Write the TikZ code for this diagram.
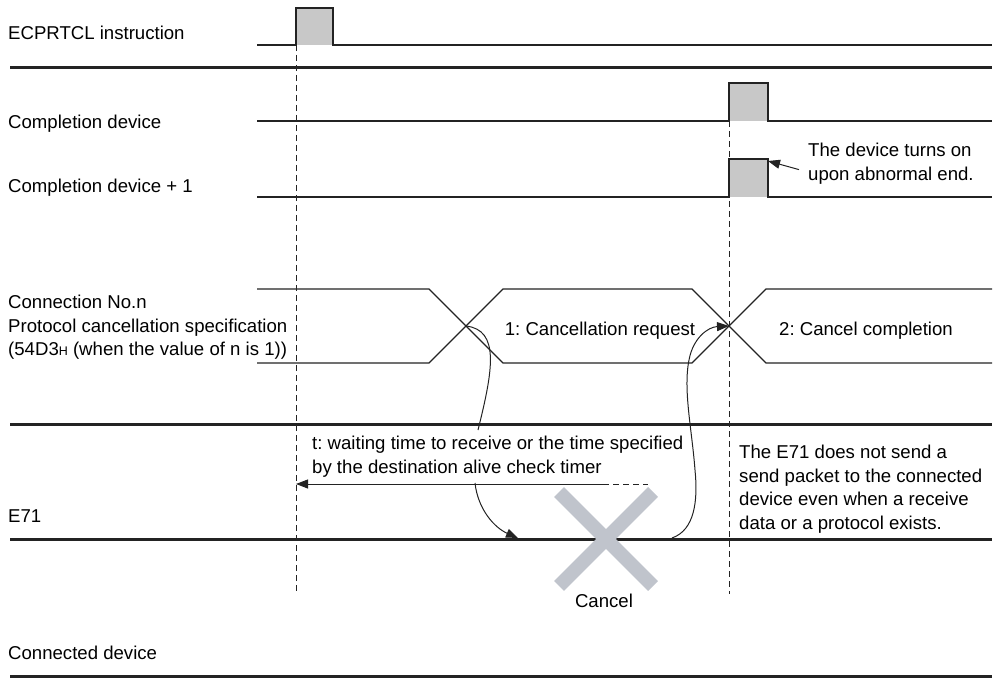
\documentclass[tikz,border=0pt]{standalone}
\usepackage{fontspec}
\setmainfont{Liberation Sans}
\usepackage{tikz}
\usetikzlibrary{arrows.meta, positioning, calc}
\usepackage{xcolor}
\frenchspacing
\definecolor{sigline}{RGB}{35,35,35}
\definecolor{pulsefill}{RGB}{200,200,200}
\definecolor{crossgray}{RGB}{192,196,204}
\tikzset{
  sig/.style={draw=sigline, line width=1.2pt},
  bus/.style={draw=sigline, line width=3pt},
  pls/.style={fill=pulsefill, draw=none},
  guide/.style={draw=sigline, line width=1pt, dash pattern=on 6pt off 4pt},
  lbl/.style={anchor=north west, inner sep=0pt, align=left,
    font=\fontsize{18.6}{23.5}\selectfont},
  tag/.style={anchor=base, inner sep=0pt, font=\fontsize{18.6}{23.5}\selectfont},
  arrT/.style={-{Triangle[length=12pt,width=9pt]}, line width=1pt, draw=sigline},
  xmark/.style={draw=crossgray, line width=14pt},
}

\begin{document}
\begin{tikzpicture}[x=1pt, y=-1pt]

  \useasboundingbox (0,0) rectangle (996,679);

  \node[lbl] (instr)   at (8,26)  {ECPRTCL instruction};
  \node[lbl] (comp)    at (8,115) {Completion device};
  \node[lbl] (compone) at (8,179) {Completion device + 1};
  \node[lbl] (cancel)  at (8,295)
       {Connection No.n\\Protocol cancellation specification\\(54D3{\fontsize{12.5}{12.5}\selectfont H} (when the value of n is 1))};
  \node[lbl] (eth)     at (8,510) {E71};
  \node[lbl] (peer)    at (8,646) {Connected device};

  \fill[pls] (296,8) rectangle (333,45);
  \fill[pls] (729,83) rectangle (768,121);
  \fill[pls] (729,159) rectangle (768,197);

  \draw[sig] (257,45) -- (296,45) -- (296,8) -- (333,8) -- (333,45) -- (992,45);
  \draw[sig] (257,121) -- (729,121) -- (729,83) -- (768,83) -- (768,121) -- (992,121);
  \draw[sig] (257,197) -- (729,197) -- (729,159) -- (768,159) -- (768,197) -- (992,197);

  \draw[sig] (257,289) -- (429,289) -- (503,363) -- (692,363) -- (766,289) -- (992,289);
  \draw[sig] (257,363) -- (429,363) -- (503,289) -- (692,289) -- (766,363) -- (992,363);
  \coordinate (cross1) at (466,326);
  \coordinate (cross2) at (729,326);

  \draw[bus] (10,68)  -- (992,68);
  \draw[bus] (10,424) -- (992,424);
  \draw[bus] (10,539) -- (992,539);
  \draw[bus] (10,676) -- (992,676);

  \draw[guide] (296,45)  -- (296,594);
  \draw[guide] (729,121) -- (729,594);

  \node[tag] (req)  at (600,335) {1: Cancellation request};
  \node[tag] (done) at (866,335) {2: Cancel completion};

  \node[lbl] (abn) at (808,143) {The device turns on\\upon abnormal end.};
  \coordinate (abntip) at (768,161);
  \draw[arrT] (abn.west) ++(-9,6) -- (abntip);

  \node[lbl] (wait) at (312,436)
       {t: waiting time to receive or the time specified\\by the destination alive check timer};
  \coordinate (tstart) at (603,484);
  \coordinate (tend)   at (296,484);
  \draw[arrT] (tstart) -- (tend);
  \draw[sig, line width=1pt, dash pattern=on 6pt off 4pt] (tstart) -- (648,484);

  \node[lbl] (nosend) at (739,445)
       {The E71 does not send a\\send packet to the connected\\device even when a receive\\data or a protocol exists.};

  \draw[xmark] (559,492) -- (653,586);
  \draw[xmark] (653,492) -- (559,586);
  \node[tag] (cnl) at (604,607) {Cancel};

  \draw[sig, line width=1pt] (cross1) .. controls (500,330) and (493,370) .. (478,430);
  \draw[arrT] (475,483) .. controls (478,510) and (495,528) .. (518,538);
  \draw[arrT] (672,538) .. controls (695,530) and (698,500) .. (695,470)
              .. controls (692,430) and (683,390) .. (689,360)
              .. controls (693,338) and (708,327) .. (cross2);
\end{tikzpicture}
\end{document}
